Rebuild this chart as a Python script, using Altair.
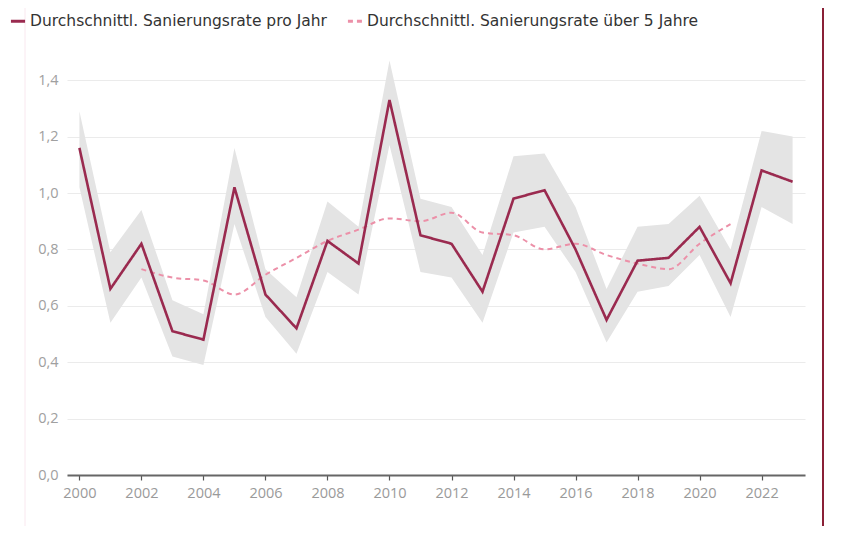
import altair as alt
import pandas as pd

years = list(range(2000, 2024))
rate_year = [1.16, 0.66, 0.82, 0.51, 0.48, 1.02, 0.64, 0.52, 0.83, 0.75, 1.33, 0.85,
             0.82, 0.65, 0.98, 1.01, 0.80, 0.55, 0.76, 0.77, 0.88, 0.68, 1.08, 1.04]
band_low = [1.02, 0.54, 0.70, 0.42, 0.39, 0.89, 0.56, 0.43, 0.72, 0.64, 1.17, 0.72,
            0.70, 0.54, 0.86, 0.88, 0.72, 0.47, 0.65, 0.67, 0.78, 0.56, 0.95, 0.89]
band_high = [1.29, 0.79, 0.94, 0.62, 0.57, 1.16, 0.73, 0.63, 0.97, 0.88, 1.47, 0.98,
             0.95, 0.78, 1.13, 1.14, 0.95, 0.66, 0.88, 0.89, 0.99, 0.80, 1.22, 1.20]
avg_years = list(range(2002, 2022))
rate_5y = [0.73, 0.70, 0.69, 0.64, 0.71, 0.77, 0.83, 0.87, 0.91, 0.90, 0.93, 0.86,
           0.85, 0.80, 0.82, 0.78, 0.75, 0.73, 0.82, 0.89]

s1 = "Durchschnittl. Sanierungsrate pro Jahr"
s2 = "Durchschnittl. Sanierungsrate über 5 Jahre"

df_year = pd.DataFrame({"Jahr": years, "Rate": rate_year, "low": band_low,
                        "high": band_high, "Serie": s1})
df_avg = pd.DataFrame({"Jahr": avg_years, "Rate": rate_5y, "Serie": s2})

FONT = "Open Sans"
xscale = alt.Scale(domain=[1999.6, 2023.4], nice=False, zero=False)
yscale = alt.Scale(domain=[0, 1.5], nice=False)

xaxis = alt.Axis(values=list(range(2000, 2024, 2)), format="d", title=None,
                 grid=False, domainColor="#666666", domainWidth=2,
                 tickColor="#555555", tickSize=5, tickWidth=1.2,
                 labelColor="#9a9a9a", labelFontSize=14.5, labelFont=FONT,
                 labelPadding=6)
yaxis = alt.Axis(values=[0, 0.2, 0.4, 0.6, 0.8, 1.0, 1.2, 1.4], title=None,
                 labelExpr="replace(format(datum.value, '.1f'), '.', ',')",
                 domain=False, ticks=False, grid=True, gridColor="#ebebeb",
                 gridWidth=1.2, labelColor="#a0a0a0", labelFontSize=14.5,
                 labelFont=FONT, labelPadding=9)

band = alt.Chart(df_year).mark_area(color="#e4e4e4", opacity=1).encode(
    x=alt.X("Jahr:Q", scale=xscale, axis=xaxis),
    y=alt.Y("low:Q", scale=yscale, axis=yaxis),
    y2="high:Q",
)

color_scale = alt.Scale(domain=[s1, s2], range=["#9a2a4f", "#ec90a8"])
dash_scale = alt.Scale(domain=[s1, s2], range=[[1, 0], [5, 4]])
legend = alt.Legend(title=None, orient="none", legendX=-58, legendY=-40,
                    direction="horizontal", symbolType="stroke",
                    symbolStrokeWidth=3, symbolSize=200, labelFont="DejaVu Sans",
                    labelFontSize=15.5, labelColor="#333333", columnPadding=14,
                    labelLimit=0, symbolOffset=0, labelOffset=3)

line_year = alt.Chart(df_year).mark_line(strokeWidth=2.6).encode(
    x=alt.X("Jahr:Q", scale=xscale),
    y=alt.Y("Rate:Q", scale=yscale),
    color=alt.Color("Serie:N", scale=color_scale, legend=legend),
    strokeDash=alt.StrokeDash("Serie:N", scale=dash_scale, legend=legend),
)
line_avg = alt.Chart(df_avg).mark_line(strokeWidth=2, interpolate="monotone").encode(
    x=alt.X("Jahr:Q", scale=xscale),
    y=alt.Y("Rate:Q", scale=yscale),
    color=alt.Color("Serie:N", scale=color_scale, legend=legend),
    strokeDash=alt.StrokeDash("Serie:N", scale=dash_scale, legend=legend),
)

right_border = alt.Chart(df_avg.head(1)).mark_rule(color="#8a2036", strokeWidth=2).encode(
    x=alt.value(756), y=alt.value(-44), y2=alt.value(474))
left_border = alt.Chart(df_avg.head(1)).mark_rule(color="#f9e8ef", strokeWidth=1).encode(
    x=alt.value(-42), y=alt.value(-44), y2=alt.value(474))

chart = alt.layer(band, line_avg, line_year, right_border, left_border).properties(
    width=738, height=423,
    background="white",
    autosize=alt.AutoSizeParams(type="none"),
    padding={"left": 59, "top": 44, "right": 21, "bottom": 51},
).configure_view(strokeWidth=0)

chart.save("out.html", embed_options={"renderer": "svg", "actions": False})
